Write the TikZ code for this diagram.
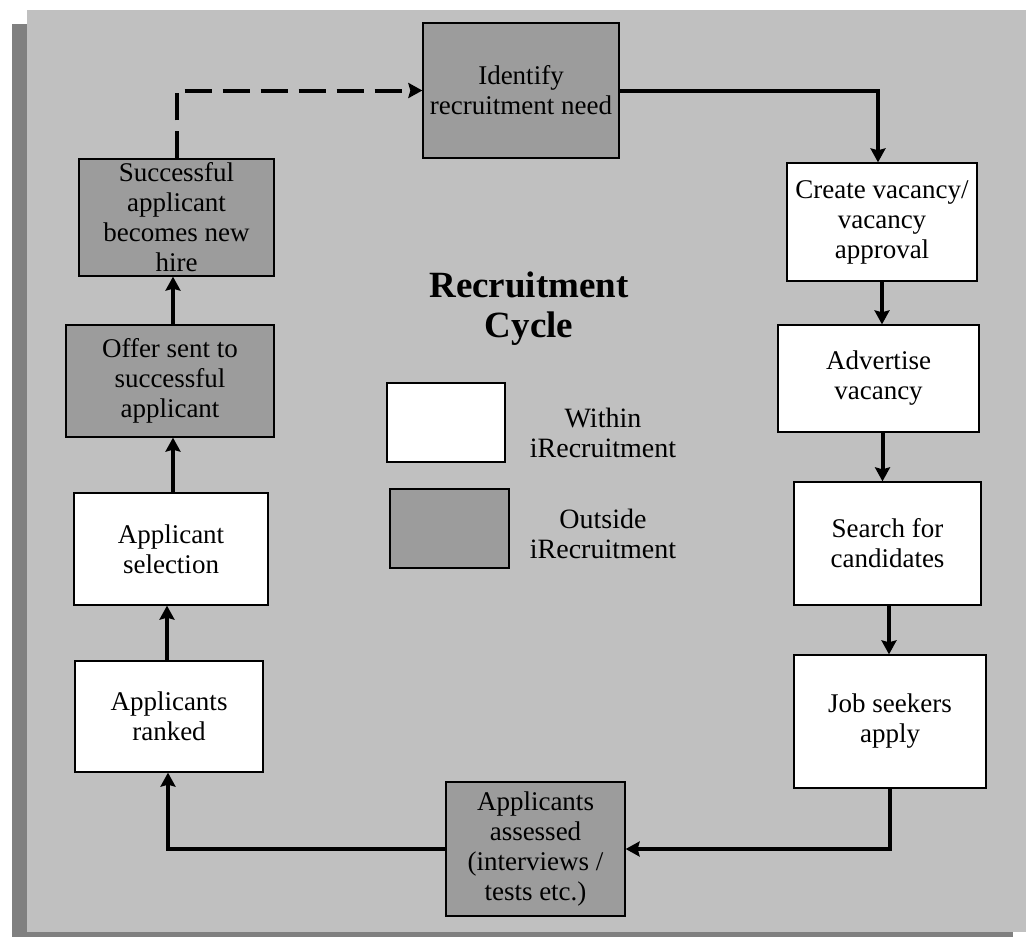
\documentclass[tikz,border=0pt]{standalone}
\usepackage{fontspec}
\setmainfont{Liberation Serif}
\usetikzlibrary{arrows.meta}
\definecolor{panel}{HTML}{C0C0C0}
\definecolor{shadow}{HTML}{808080}
\definecolor{outbox}{HTML}{9C9C9C}
\tikzset{
  box/.style={draw=black, line width=1.3pt, inner sep=0pt, align=center,
    font=\fontsize{27}{30}\selectfont},
  inbox/.style={box, fill=white},
  exbox/.style={box, fill=outbox},
  arr/.style={line width=4pt, -{Stealth[length=14pt,width=15pt,inset=2pt]}},
  dasharr/.style={arr, dash pattern=on 27pt off 11pt},
  legtext/.style={align=center, font=\fontsize{28}{30}\selectfont},
}
\begin{document}
\begin{tikzpicture}[x=1pt,y=-1pt]
\useasboundingbox (0,0) rectangle (1026,937);
\fill[shadow] (12,24) rectangle (1013,937);
\fill[panel] (27,10) rectangle (1026,932);

\node[exbox, minimum width=196pt, minimum height=135pt] (ident) at (521,90.5) {Identify\\recruitment need};
\node[inbox, minimum width=190pt, minimum height=118pt] (create) at (882,222) {Create vacancy/\\vacancy\\approval};
\node[inbox, minimum width=201pt, minimum height=107pt] (advert) at (878.5,378.5) {Advertise\\vacancy};
\node[inbox, minimum width=187pt, minimum height=123pt] (search) at (887.5,543.5) {Search for\\candidates};
\node[inbox, minimum width=192pt, minimum height=133pt] (job) at (890,721.5) {Job seekers\\apply};
\node[exbox, minimum width=179pt, minimum height=134pt] (assess) at (535.5,849) {Applicants\\assessed\\(interviews /\\tests etc.)};
\node[inbox, minimum width=188pt, minimum height=111pt] (ranked) at (169,716.5) {Applicants\\ranked};
\node[inbox, minimum width=194pt, minimum height=112pt] (select) at (171,549) {Applicant\\selection};
\node[exbox, minimum width=208pt, minimum height=112pt] (offer) at (170,381) {Offer sent to\\successful\\applicant};
\node[exbox, minimum width=195pt, minimum height=117pt] (success) at (176.5,217.5) {Successful\\applicant\\becomes new\\hire};

\node[align=center, font=\fontsize{37}{40}\selectfont\bfseries] (title) at (529,309) {Recruitment\\Cycle};
\node[inbox, minimum width=118pt, minimum height=79pt] (legw) at (446,422.5) {};
\node[exbox, minimum width=119pt, minimum height=79pt] (legg) at (449.5,528.5) {};
\node[legtext] (legwt) at (603,433) {Within\\iRecruitment};
\node[legtext] (leggt) at (603,533.5) {Outside\\iRecruitment};

\draw[dasharr] (success.north) |- (ident.west);
\draw[arr] (ident.east) -| ([xshift=-4pt]create.north);
\draw[arr] (create.south) -- (create.south |- advert.north);
\draw[arr] ([xshift=4pt]advert.south) -- ([xshift=4pt]advert.south |- search.north);
\draw[arr] ([xshift=1.5pt]search.south) -- ([xshift=1.5pt]search.south |- job.north);
\draw[arr] (job.south) |- (assess.east);
\draw[arr] (assess.west) -| ([xshift=-1pt]ranked.south);
\draw[arr] ([xshift=-2pt]ranked.north) -- ([xshift=-2pt]ranked.north |- select.south);
\draw[arr] ([xshift=2pt]select.north) -- ([xshift=2pt]select.north |- offer.south);
\draw[arr] ([xshift=3pt]offer.north) -- ([xshift=3pt]offer.north |- success.south);
\end{tikzpicture}
\end{document}
